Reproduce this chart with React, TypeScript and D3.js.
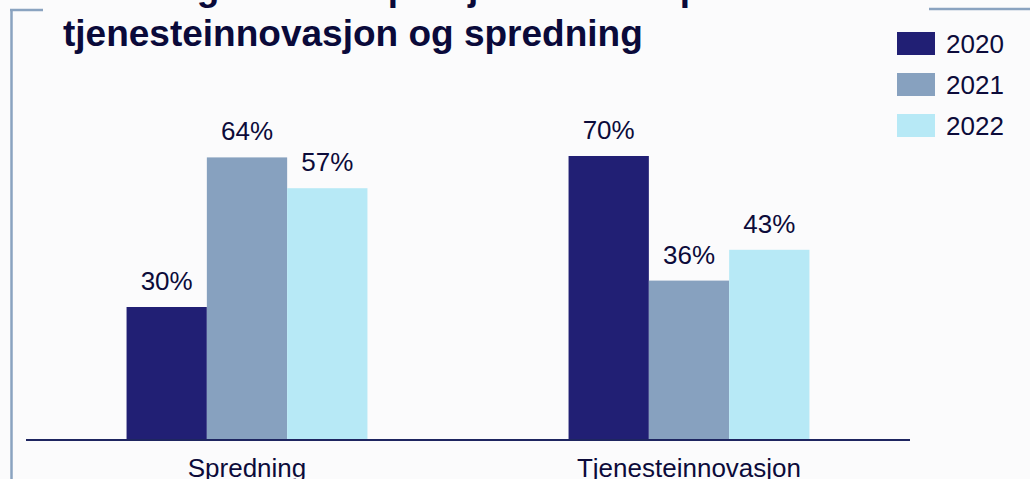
import React from "react";
import * as d3 from "d3";

const categories = ["Spredning", "Tjenesteinnovasjon"];
const years = ["2020", "2021", "2022"];
const values2020 = [30, 70];
const values2021 = [64, 36];
const values2022 = [57, 43];
const seriesValues = [values2020, values2021, values2022];
const colors = ["#211f74", "#87a1bf", "#b7e9f6"];
const titleLines = ["Utvikling av andel prosjekter rettet på", "tjenesteinnovasjon og spredning"];

const W = 1030;
const H = 479;
const textColor = "#0c0b3a";
const font = "'Liberation Sans', Arial, sans-serif";

export default function App() {
  const baseY = 439;
  const plotTop = 156;
  const x0 = d3.scaleBand<string>().domain(categories).range([26, 910]).paddingInner(0.455).paddingOuter(0.2275);
  const x1 = d3.scaleBand<string>().domain(years).range([0, x0.bandwidth()]);
  const y = d3.scaleLinear().domain([0, 100]).range([baseY, baseY - 440]);
  const top = (v: number) => Math.max(y(v), plotTop);

  return (
    <svg width={W} height={H} style={{ position: "absolute", left: 0, top: 0, background: "#fbfbfc" }}>
      <rect x={0} y={0} width={W} height={H} fill="#fbfbfc" />
      {/* frame */}
      <line x1={11.5} x2={11.5} y1={9} y2={H} stroke="#8aa3c0" strokeWidth={2.5} />
      <line x1={10} x2={43} y1={10} y2={10} stroke="#8aa3c0" strokeWidth={2.5} />
      <line x1={929} x2={W} y1={9} y2={9} stroke="#8aa3c0" strokeWidth={2.5} />
      {/* title */}
      {titleLines.map((t, i) => (
        <text key={t} x={63} y={-0.5 + i * 46.3} fontFamily={font} fontWeight="bold" fontSize={37} fill="#0a0a3a">
          {t}
        </text>
      ))}
      {/* bars */}
      {categories.map((c, ci) => (
        <g key={c} transform={`translate(${x0(c)},0)`}>
          {years.map((yr, si) => {
            const v = seriesValues[si][ci];
            const ty = top(v);
            return (
              <g key={yr}>
                <rect x={x1(yr)} y={ty} width={x1.bandwidth()} height={baseY - ty} fill={colors[si]} />
                <text
                  x={(x1(yr) as number) + x1.bandwidth() / 2}
                  y={ty - 17}
                  textAnchor="middle"
                  fontFamily={font}
                  fontSize={26}
                  fill={textColor}
                >
                  {v}%
                </text>
              </g>
            );
          })}
          <text
            x={x0.bandwidth() / 2}
            y={477}
            textAnchor="middle"
            fontFamily={font}
            fontSize={26}
            fill={textColor}
          >
            {c}
          </text>
        </g>
      ))}
      {/* axis */}
      <line x1={26} x2={910} y1={440} y2={440} stroke="#1e2560" strokeWidth={2} />
      {/* legend */}
      {years.map((yr, i) => (
        <g key={yr} transform={`translate(897,${32 + i * 41})`}>
          <rect x={0} y={0} width={38} height={23} fill={colors[i]} />
          <text x={49} y={21} fontFamily={font} fontSize={26} fill={textColor}>
            {yr}
          </text>
        </g>
      ))}
    </svg>
  );
}
